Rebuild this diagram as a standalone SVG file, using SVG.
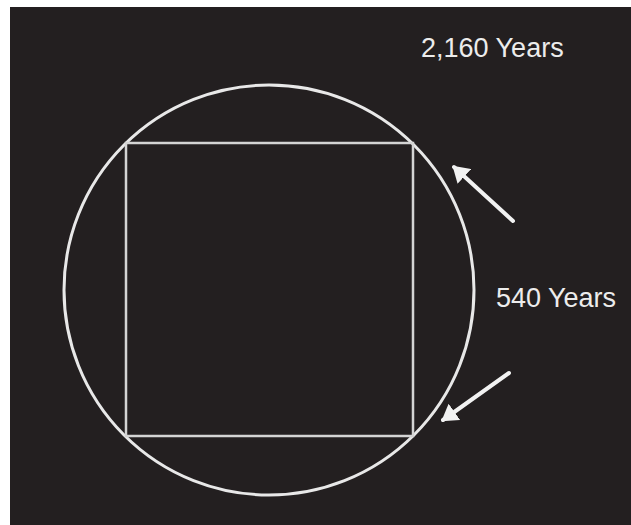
<svg xmlns="http://www.w3.org/2000/svg" width="631" height="525" viewBox="0 0 631 525">
<defs>
<style>
.lbl{font-family:"Liberation Sans",Arial,sans-serif;fill:#ececec;font-size:27px}
.arr{stroke:#f2f2f2;stroke-width:4;stroke-linecap:round;fill:none}
</style>
<marker id="ah" markerWidth="5" markerHeight="5" refX="3.5" refY="2.5" orient="auto" markerUnits="strokeWidth">
<path d="M0,0 L4,2.5 L0,5 Z" fill="#f2f2f2"/>
</marker>
</defs>
<rect x="0" y="0" width="631" height="525" fill="#ffffff"/>
<rect x="10" y="7" width="621" height="518" fill="#231f20"/>
<g id="circle"><circle cx="269" cy="290" r="205" fill="none" stroke="#e8e8e8" stroke-width="3"/></g>
<g id="square"><rect x="126" y="143" width="287" height="293" fill="none" stroke="#d4d4d4" stroke-width="2.5"/></g>
<g id="label-2160"><text class="lbl" x="421" y="57">2,160 Years</text></g>
<g id="label-540"><text class="lbl" x="496" y="307">540 Years</text></g>
<g id="connectors">
<line class="arr" x1="513" y1="221" x2="454" y2="167" marker-end="url(#ah)"/>
<line class="arr" x1="509" y1="373" x2="443" y2="420" marker-end="url(#ah)"/>
</g>
</svg>
